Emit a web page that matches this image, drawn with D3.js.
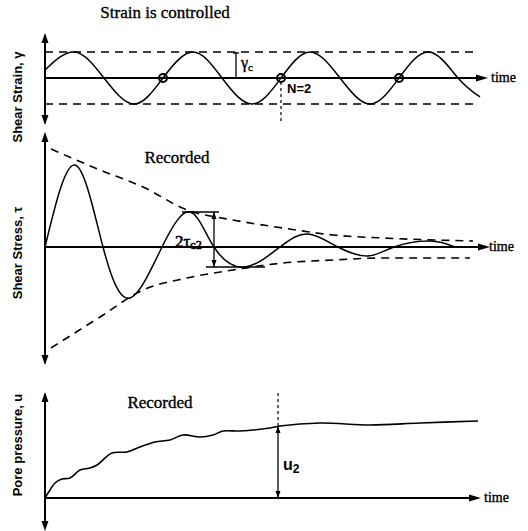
<!DOCTYPE html>
<html>
<head>
    <meta charset="utf-8">
    <script src="https://cdn.jsdelivr.net/npm/d3@7/dist/d3.min.js"></script>
    <title></title>
    <style>
        * { margin: 0; padding: 0; }
        body { background: #fff; }
        #chart { display: block; }
        .serif { font-family: "Liberation Serif", "DejaVu Serif", serif; font-weight: normal; stroke: #000; stroke-width: 0.35px; }
        .sans { font-family: "Liberation Sans", Arial, sans-serif; font-weight: bold; }
    </style>
</head>
<body>
    <svg id="chart" width="528" height="531"></svg>
    <script>
        // time in arbitrary units along the horizontal axis
        var strainT = [0, 30, 59, 89, 118, 148, 177, 207, 236, 265, 295, 325, 354, 384, 413, 435];
        var strainV = [0.31, 1, 0, -1, 0, 1, 0, -1, 0, 1, 0, -1, 0, 1, 0, -0.73];
        var cycleMarks = [118, 236, 354];

        var stressT = [0, 30, 58, 85, 117, 145, 169, 200, 235, 263, 293, 323, 349, 385, 410];
        var stressV = [0, 82, 0, -51, 0, 35, 0, -20, 0, 13, 0, -9, 0, 6, 0];
        var envUpT = [6, 55, 98, 142, 188, 238, 288, 338, 428];
        var envUpV = [98, 77, 60, 37, 27, 19, 12, 9, 6];
        var envLoT = [6, 55, 98, 142, 188, 238, 288, 338, 425];
        var envLoV = [-101, -70, -43, -31, -23, -16, -13, -11, -11];

        var poreT = [0, 5, 10, 17, 25, 35, 45, 52, 67, 82, 95, 110, 125, 138, 155, 168, 178, 195, 225, 235, 275, 325, 375, 433];
        var poreV = [0, 8, 15, 19, 20, 28, 30, 33, 45, 46, 51, 56, 58, 63, 61, 63, 67, 67, 70, 72, 75, 73, 75, 77];

        var tauMark = { t: 169, top: 35, bottom: -20 };
        var gammaMark = 191;
        var uMark = 233;

        var svg = d3.select("#chart");

        var x = d3.scaleLinear().domain([0, 442]).range([45, 487]);
        var yStrain = d3.scaleLinear().domain([-1, 1]).range([104, 52]);
        var yStress = d3.scaleLinear().domain([-100, 100]).range([347, 147]);
        var yPore = d3.scaleLinear().domain([0, 100]).range([498, 398]);

        function zip(t, v) { return t.map(function (d, i) { return [d, v[i]]; }); }

        function arrow(g, px, py, dir, len, half) {
            len = len || 10; half = half || 3.5;
            var pts;
            if (dir == "up") pts = [[px, py], [px - half, py + len], [px + half, py + len]];
            if (dir == "down") pts = [[px, py], [px - half, py - len], [px + half, py - len]];
            if (dir == "right") pts = [[px, py], [px - len, py - half], [px - len, py + half]];
            g.append("path").attr("d", "M" + pts.join("L") + "Z").attr("fill", "#000");
        }

        function hline(g, x1, x2, y, w, dash) {
            g.append("line").attr("x1", x1).attr("x2", x2).attr("y1", y).attr("y2", y)
                .attr("stroke", "#000").attr("stroke-width", w).attr("stroke-dasharray", dash || null);
        }
        function vline(g, xx, y1, y2, w, dash) {
            g.append("line").attr("x1", xx).attr("x2", xx).attr("y1", y1).attr("y2", y2)
                .attr("stroke", "#000").attr("stroke-width", w).attr("stroke-dasharray", dash || null);
        }

        function drawCurve(g, data, yScale, curve, w, dash) {
            var line = d3.line()
                .x(function (d) { return x(d[0]); })
                .y(function (d) { return yScale(d[1]); })
                .curve(curve);
            g.append("path").attr("d", line(data))
                .attr("fill", "none").attr("stroke", "#000")
                .attr("stroke-width", w).attr("stroke-dasharray", dash || null);
        }

        function yLabel(text, cy) {
            svg.append("text").attr("class", "sans")
                .attr("transform", "translate(22," + cy + ") rotate(-90)")
                .attr("text-anchor", "middle").style("font-size", "13px").text(text);
        }

        function timeLabel(xx, yy) {
            svg.append("text").attr("class", "serif").attr("x", xx).attr("y", yy + 4)
                .style("font-size", "14px").text("time");
        }

        // ---------- panel 1 : strain ----------
        var p1 = svg.append("g");
        svg.append("text").attr("class", "serif").attr("x", 165).attr("y", 18)
            .attr("text-anchor", "middle").style("font-size", "17px").text("Strain is controlled");
        yLabel("Shear Strain, \u03b3", 97);

        hline(p1, x(0), x(433), yStrain(1), 1.6, "8,6");
        hline(p1, x(0), x(433), yStrain(-1), 1.6, "8,6");
        vline(p1, 45, 35, 123, 2);
        arrow(p1, 45, 33, "up");
        arrow(p1, 45, 125, "down");
        hline(p1, 45, 478, yStrain(0), 2.2);
        arrow(p1, 488, yStrain(0), "right", 12, 3.5);
        timeLabel(491, yStrain(0));

        drawCurve(p1, zip(strainT, strainV), yStrain, d3.curveNatural, 1.5);

        p1.selectAll("circle").data(cycleMarks).enter().append("circle")
            .attr("cx", function (d) { return x(d); }).attr("cy", yStrain(0)).attr("r", 4)
            .attr("fill", "none").attr("stroke", "#000").attr("stroke-width", 2);

        vline(p1, x(236), yStrain(0) + 4, 122, 1.2, "3,3");
        p1.append("text").attr("class", "sans").attr("x", x(236) + 6).attr("y", 93)
            .style("font-size", "13px").text("N=2");

        vline(p1, x(gammaMark), yStrain(1), yStrain(0), 1.3);
        hline(p1, x(gammaMark) - 3, x(gammaMark) + 3, yStrain(1) + 1, 1.3);
        p1.append("text").attr("class", "serif").attr("x", x(gammaMark) + 5).attr("y", 68)
            .style("font-size", "16px")
            .html("\u03b3<tspan dy='3' style='font-size:11px'>c</tspan>");

        // ---------- panel 2 : stress ----------
        var p2 = svg.append("g");
        svg.append("text").attr("class", "serif").attr("x", 177).attr("y", 163)
            .attr("text-anchor", "middle").style("font-size", "17px").text("Recorded");
        yLabel("Shear Stress, \u03c4", 253);

        vline(p2, 45, 134, 363, 2);
        arrow(p2, 45, 132, "up");
        arrow(p2, 45, 365, "down");
        hline(p2, 45, 480, yStress(0), 2.2);
        arrow(p2, 490, yStress(0), "right", 12, 3.5);
        timeLabel(489, yStress(0));

        drawCurve(p2, zip(envUpT, envUpV), yStress, d3.curveMonotoneX, 1.6, "8,6");
        drawCurve(p2, zip(envLoT, envLoV), yStress, d3.curveMonotoneX, 1.6, "8,6");
        drawCurve(p2, zip(stressT, stressV), yStress, d3.curveNatural, 1.5);

        hline(p2, x(137), x(tauMark.t) + 5, yStress(tauMark.top), 1.6);
        hline(p2, x(161), x(220), yStress(tauMark.bottom), 1.6);
        vline(p2, x(tauMark.t), yStress(tauMark.top), yStress(tauMark.bottom), 1.3);
        arrow(p2, x(tauMark.t), yStress(tauMark.top), "up", 7, 2.5);
        arrow(p2, x(tauMark.t), yStress(tauMark.bottom), "down", 7, 2.5);
        p2.append("text").attr("class", "serif").attr("x", 175).attr("y", 247)
            .style("font-size", "17px").style("stroke-width", "0.6px")
            .html("2\u03c4<tspan dy='2' style='font-size:12px'>c2</tspan>");

        // ---------- panel 3 : pore pressure ----------
        var p3 = svg.append("g");
        svg.append("text").attr("class", "serif").attr("x", 160).attr("y", 408)
            .attr("text-anchor", "middle").style("font-size", "17px").text("Recorded");
        yLabel("Pore pressure, u", 445);

        vline(p3, 45, 394, 528, 2);
        arrow(p3, 45, 392, "up");
        arrow(p3, 45, 531, "down");
        hline(p3, 45, 472, yPore(0), 2.2);
        arrow(p3, 481, yPore(0), "right", 12, 3.5);
        timeLabel(484, yPore(0));

        drawCurve(p3, zip(poreT, poreV), yPore, d3.curveCatmullRom, 1.6);

        var uTop = yPore(72);
        vline(p3, x(uMark), 393, uTop, 1.2, "3,3");
        vline(p3, x(uMark), uTop, yPore(0), 1.3);
        arrow(p3, x(uMark), uTop, "up", 7, 2.5);
        arrow(p3, x(uMark), yPore(0), "down", 7, 2.5);
        p3.append("text").attr("class", "sans").attr("x", x(uMark) + 5).attr("y", 470)
            .style("font-size", "16px")
            .html("u<tspan dy='3' style='font-size:12px'>2</tspan>");
    </script>
</body>
</html>
